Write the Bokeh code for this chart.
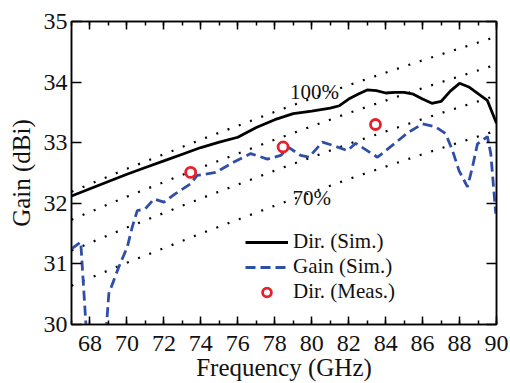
from bokeh.plotting import figure
from bokeh.models import (LinearAxis, SingleIntervalTicker, Legend, LegendItem,
                          Label, Range1d, CustomJSTickFormatter)
from bokeh.embed import file_html
from bokeh.resources import INLINE

# ---- data ----
dir_f = [67, 68, 69, 70, 71, 72, 73, 74, 75, 76, 77, 78, 79, 80, 81, 81.5, 82,
         82.5, 83, 83.5, 84, 84.5, 85, 85.5, 86, 86.5, 87, 87.5, 88, 88.5, 89,
         89.5, 90]
dir_v = [32.12, 32.24, 32.36, 32.48, 32.59, 32.70, 32.81, 32.92, 33.01, 33.09,
         33.25, 33.38, 33.48, 33.52, 33.57, 33.61, 33.72, 33.80, 33.87, 33.86,
         33.82, 33.83, 33.83, 33.80, 33.72, 33.65, 33.68, 33.85, 33.98, 33.92,
         33.81, 33.70, 33.32]

gain_f = [67.0, 67.5, 68.3, 69.02, 69.56, 70.02, 70.29, 70.56, 71.0, 71.46,
          72.0, 72.63, 73.44, 73.8, 74.8, 75.79, 76.7, 77.6, 78.32, 78.77,
          79.4, 79.85, 80.58, 81.2, 81.93, 82.38, 83.56, 84.46, 85.18, 85.99,
          86.71, 87.25, 87.62, 87.97, 88.43, 88.7, 88.97, 89.51, 89.69, 89.96]
gain_v = [31.25, 31.36, 27.5, 30.51, 30.95, 31.28, 31.61, 31.88, 31.91, 32.07,
          32.02, 32.16, 32.32, 32.46, 32.51, 32.68, 32.82, 32.73, 32.79, 32.92,
          32.79, 32.76, 33.01, 32.95, 32.87, 32.99, 32.76, 32.98, 33.16, 33.31,
          33.26, 33.15, 32.87, 32.54, 32.27, 32.60, 32.98, 33.10, 32.82, 31.83]

meas_f = [73.45, 78.45, 83.45]
meas_v = [32.51, 32.93, 33.30]

# efficiency reference lines (100 %, 90 %, 80 %, 70 %)
ref_f = [67, 70, 74, 78, 82, 86, 90]
ref_100 = [32.19, 32.57, 33.05, 33.51, 33.95, 34.36, 34.75]
ref_90 = [31.73, 32.11, 32.59, 33.05, 33.49, 33.90, 34.29]
ref_80 = [31.22, 31.60, 32.08, 32.54, 32.98, 33.39, 33.78]
ref_70 = [30.64, 31.02, 31.50, 31.96, 32.40, 32.81, 33.20]

x_ticks_interval = 2
y_ticks_interval = 1

FONT = "Liberation Serif"
TXT = "#111111"
BLUE = "#2f4ea8"
RED = "#e8202a"

p = figure(width=510, height=383, x_range=Range1d(67, 90), y_range=Range1d(30, 35),
           output_backend="svg", toolbar_location=None,
           min_border_left=71, min_border_right=14, min_border_top=21,
           min_border_bottom=59)
p.xgrid.visible = False
p.ygrid.visible = False
p.outline_line_color = "black"
p.outline_line_width = 1.5
p.background_fill_color = "white"
p.border_fill_color = "white"

# reference lines
for vals in (ref_100, ref_90, ref_80, ref_70):
    p.line(ref_f, vals, line_color="black", line_width=2.2, line_dash="2 10")

r_gain = p.line(gain_f, gain_v, line_color=BLUE, line_width=2.8, line_dash="10 5")
r_dir = p.line(dir_f, dir_v, line_color="black", line_width=2.8)
r_meas = p.scatter(meas_f, meas_v, marker="circle", size=10, fill_color="white",
                   line_color=RED, line_width=2.8)

# axes
def style_axis(ax):
    ax.axis_line_width = 1.5
    ax.major_tick_line_width = 1.5
    ax.minor_tick_line_width = 1.5
    ax.major_tick_out = 0
    ax.minor_tick_out = 0
    ax.major_label_text_font = FONT
    ax.major_label_text_font_size = "24px"
    ax.major_label_text_color = TXT
    ax.axis_label_text_font = FONT
    ax.axis_label_text_font_size = "25px"
    ax.axis_label_text_font_style = "normal"
    ax.axis_label_text_color = TXT

xa = p.xaxis[0]
xa.ticker = SingleIntervalTicker(interval=x_ticks_interval, num_minor_ticks=2)
style_axis(xa)
xa.major_tick_in = 8
xa.minor_tick_in = 4
xa.major_label_standoff = 11
xa.axis_label = "Frequency (GHz)"
xa.axis_label_standoff = 0

ya = p.yaxis[0]
ya.ticker = SingleIntervalTicker(interval=y_ticks_interval, num_minor_ticks=2)
style_axis(ya)
ya.major_tick_in = 10
ya.minor_tick_line_color = None
ya.major_label_standoff = 4
ya.axis_label = "Gain (dBi)"
ya.axis_label_standoff = 6

blank = CustomJSTickFormatter(code="return '';")

xa2 = LinearAxis(ticker=SingleIntervalTicker(interval=x_ticks_interval, num_minor_ticks=2),
                 formatter=blank)
style_axis(xa2)
xa2.major_label_text_font_size = "1px"
xa2.major_tick_in = 8
xa2.minor_tick_in = 4
xa2.major_label_standoff = 0
p.add_layout(xa2, "above")

ya2 = LinearAxis(ticker=SingleIntervalTicker(interval=y_ticks_interval, num_minor_ticks=2),
                 formatter=blank)
style_axis(ya2)
ya2.major_label_text_font_size = "1px"
ya2.major_tick_in = 10
ya2.minor_tick_line_color = None
ya2.major_label_standoff = 0
p.add_layout(ya2, "right")

# annotations
p.add_layout(Label(x=80.15, y=33.83, text="100%", text_font=FONT, text_font_size="21px",
                   text_align="center", text_baseline="middle", text_color=TXT))
p.add_layout(Label(x=80.0, y=32.08, text="70%", text_font=FONT, text_font_size="21px",
                   text_align="center", text_baseline="middle", text_color=TXT))

legend = Legend(items=[LegendItem(label="Dir. (Sim.)", renderers=[r_dir]),
                       LegendItem(label="Gain (Sim.)", renderers=[r_gain]),
                       LegendItem(label="Dir. (Meas.)", renderers=[r_meas])],
                location=(174, 20), orientation="vertical")
legend.border_line_alpha = 0
legend.background_fill_alpha = 0
legend.padding = 0
legend.margin = 0
legend.spacing = -4
legend.glyph_width = 43
legend.glyph_height = 22
legend.label_height = 22
legend.label_standoff = 5
legend.label_text_font = FONT
legend.label_text_font_size = "21px"
legend.label_text_color = TXT
p.add_layout(legend, "center")

open("out.html", "w").write(file_html(p, INLINE))
